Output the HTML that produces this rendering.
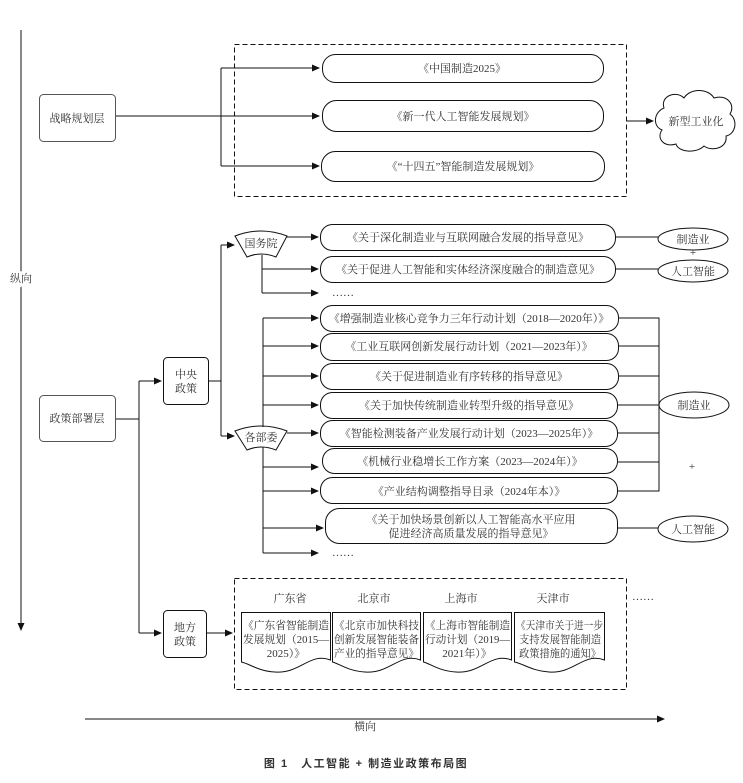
<!DOCTYPE html>
<html><head><meta charset="utf-8"><style>
html,body{margin:0;padding:0;background:#fff;}
svg{display:block;}
text{font-family:"Liberation Serif","Noto Serif CJK SC","Noto Sans CJK SC",serif;fill:#333;font-size:11px;}
</style></head><body>
<svg width="743" height="783" viewBox="0 0 743 783" xmlns="http://www.w3.org/2000/svg">
<defs>
<marker id="a" markerWidth="8" markerHeight="8" refX="7" refY="4" orient="auto" markerUnits="userSpaceOnUse"><path d="M0,0.5 L8,4 L0,7.5 z" fill="#111"/></marker>
</defs>
<g stroke="#111" stroke-width="1" fill="none">
<line x1="21" y1="30" x2="21" y2="630" marker-end="url(#a)"/>
<line x1="85" y1="719" x2="664" y2="719" marker-end="url(#a)"/>
<rect x="39.5" y="94.5" width="76" height="47" rx="4" stroke="#555"/>
<rect x="234.5" y="44.5" width="392" height="152" stroke-dasharray="5,3"/>
<line x1="116" y1="116" x2="319" y2="116" marker-end="url(#a)"/>
<path d="M221,68 V166" />
<line x1="221" y1="68" x2="319" y2="68" marker-end="url(#a)"/>
<line x1="221" y1="166" x2="319" y2="166" marker-end="url(#a)"/>
<rect x="322.5" y="54.5" width="281" height="28" rx="13"/>
<rect x="322.5" y="100.5" width="281" height="31" rx="14"/>
<rect x="321.5" y="151.5" width="283" height="30" rx="14"/>
<line x1="627" y1="121" x2="653" y2="121" marker-end="url(#a)"/>
<path d="M664,108 C660,96 676,90 684,98 C690,88 708,88 714,98 C726,94 736,104 730,114 C738,120 736,134 726,136 C728,148 712,152 704,146 C696,154 678,152 676,144 C664,148 656,138 662,130 C652,126 654,112 664,108 Z"/>
<rect x="39.5" y="395.5" width="76" height="46" rx="4" stroke="#555"/>
<path d="M116,419 H139 V633"/>
<line x1="139" y1="381" x2="161" y2="381" marker-end="url(#a)"/>
<line x1="139" y1="381" x2="139" y2="419"/>
<line x1="139" y1="633" x2="161" y2="633" marker-end="url(#a)"/>
<rect x="163.5" y="357.5" width="45" height="47" rx="4"/>
<rect x="163.5" y="610.5" width="43" height="47" rx="4"/>
<path d="M209,381 H221 V245"/>
<line x1="221" y1="381" x2="221" y2="436"/>
<line x1="221" y1="245" x2="234" y2="245" marker-end="url(#a)"/>
<line x1="221" y1="436" x2="234" y2="436" marker-end="url(#a)"/>
<path d="M235,236 Q261,226 287,236 L276,257 Q261,251 247,257 Z"/>
<path d="M235,431 Q261,421 287,431 L276,450 Q261,444 247,450 Z"/>
<line x1="287" y1="237" x2="318" y2="237" marker-end="url(#a)"/>
<path d="M262,255 V293"/>
<line x1="262" y1="269" x2="318" y2="269" marker-end="url(#a)"/>
<line x1="262" y1="293" x2="318" y2="293" marker-end="url(#a)"/>
<rect x="320.5" y="224.5" width="295" height="26" rx="12"/>
<rect x="320.5" y="256.5" width="295" height="26" rx="12"/>
<line x1="616" y1="237" x2="658" y2="237"/>
<line x1="616" y1="269" x2="658" y2="269"/>
<ellipse cx="693" cy="239" rx="35" ry="11"/>
<ellipse cx="693" cy="271" rx="35" ry="11"/>
<line x1="263" y1="318" x2="263" y2="427"/>
<line x1="263" y1="447" x2="263" y2="553"/>
<line x1="263" y1="318" x2="318" y2="318" marker-end="url(#a)"/>
<line x1="263" y1="346" x2="318" y2="346" marker-end="url(#a)"/>
<line x1="263" y1="376" x2="318" y2="376" marker-end="url(#a)"/>
<line x1="263" y1="405" x2="318" y2="405" marker-end="url(#a)"/>
<line x1="287" y1="433" x2="318" y2="433" marker-end="url(#a)"/>
<line x1="263" y1="467" x2="318" y2="467" marker-end="url(#a)"/>
<line x1="263" y1="491" x2="318" y2="491" marker-end="url(#a)"/>
<line x1="263" y1="528" x2="323" y2="528" marker-end="url(#a)"/>
<line x1="263" y1="553" x2="318" y2="553" marker-end="url(#a)"/>
<rect x="320.5" y="305.5" width="298" height="26" rx="12"/>
<rect x="320.5" y="333.5" width="298" height="27" rx="12"/>
<rect x="320.5" y="363.5" width="298" height="26" rx="12"/>
<rect x="320.5" y="392.5" width="297" height="26" rx="12"/>
<rect x="320.5" y="420.5" width="297" height="26" rx="12"/>
<rect x="322.5" y="448.5" width="295" height="25" rx="12"/>
<rect x="320.5" y="477.5" width="297" height="26" rx="12"/>
<rect x="325.5" y="508.5" width="292" height="35" rx="14"/>
<path d="M618,318 H659 V491 H618"/>
<line x1="618" y1="346" x2="659" y2="346"/>
<line x1="618" y1="376" x2="659" y2="376"/>
<line x1="618" y1="405" x2="659" y2="405"/>
<line x1="618" y1="433" x2="659" y2="433"/>
<line x1="618" y1="462" x2="659" y2="462"/>
<ellipse cx="694" cy="405" rx="35" ry="13"/>
<line x1="618" y1="528" x2="658" y2="528"/>
<ellipse cx="693" cy="529" rx="35" ry="13"/>
<rect x="234.5" y="578.5" width="392" height="111" stroke-dasharray="5,3"/>
<line x1="206" y1="633" x2="232" y2="633" marker-end="url(#a)"/>
<path d="M241.5,612.5 H330.5 V660 C310,652 300,674 275,672 C258,671 250,664 241.5,662 Z"/>
<path d="M332.5,612.5 H420.5 V660 C400,652 390,674 365,672 C348,671 340,664 332.5,662 Z"/>
<path d="M423.5,612.5 H511.5 V660 C491,652 481,674 456,672 C439,671 431,664 423.5,662 Z"/>
<path d="M514.5,612.5 H604.5 V660 C584,652 574,674 549,672 C532,671 524,664 514.5,662 Z"/>
</g>
<g text-anchor="middle">
<text x="21" y="282" font-size="11" style="paint-order:stroke" stroke="#fff" stroke-width="4">纵向</text>
<text x="365" y="730" font-size="10">横向</text>
<text x="366" y="767" font-size="14" font-weight="bold" fill="#222" letter-spacing="1.5" style="font-family:'Liberation Sans','Noto Sans CJK SC',sans-serif">图 1　人工智能 + 制造业政策布局图</text>
<text x="77" y="122">战略规划层</text>
<text x="77" y="422">政策部署层</text>
<text x="186" y="378">中央</text><text x="186" y="392">政策</text>
<text x="185" y="631">地方</text><text x="185" y="645">政策</text>
<text x="462" y="72">《中国制造2025》</text>
<text x="463" y="120">《新一代人工智能发展规划》</text>
<text x="463" y="170">《“十四五”智能制造发展规划》</text>
<text x="696" y="125" font-size="12">新型工业化</text>
<text x="261" y="247">国务院</text>
<text x="261" y="441">各部委</text>
<text x="468" y="241">《关于深化制造业与互联网融合发展的指导意见》</text>
<text x="468" y="273">《关于促进人工智能和实体经济深度融合的制造意见》</text>
<text x="693" y="243">制造业</text>
<text x="693" y="256" font-size="9">+</text>
<text x="693" y="275">人工智能</text>
<text x="469" y="322">《增强制造业核心竞争力三年行动计划（2018—2020年）》</text>
<text x="469" y="350">《工业互联网创新发展行动计划（2021—2023年）》</text>
<text x="469" y="380">《关于促进制造业有序转移的指导意见》</text>
<text x="469" y="409">《关于加快传统制造业转型升级的指导意见》</text>
<text x="469" y="437">《智能检测装备产业发展行动计划（2023—2025年）》</text>
<text x="470" y="465">《机械行业稳增长工作方案（2023—2024年）》</text>
<text x="469" y="495">《产业结构调整指导目录（2024年本）》</text>
<text x="471" y="523">《关于加快场景创新以人工智能高水平应用</text>
<text x="471" y="537">促进经济高质量发展的指导意见》</text>
<text x="694" y="409">制造业</text>
<text x="692" y="470" font-size="9">+</text>
<text x="693" y="533">人工智能</text>
<text x="290" y="602">广东省</text>
<text x="374" y="602">北京市</text>
<text x="461" y="602">上海市</text>
<text x="553" y="602">天津市</text>
<text x="643" y="600">……</text>
</g>
<g font-size="10.5">
<text x="243" y="629" textLength="86" lengthAdjust="spacingAndGlyphs">《广东省智能制造</text><text x="243" y="643" textLength="86" lengthAdjust="spacingAndGlyphs">发展规划（2015—</text><text x="286" y="657" text-anchor="middle">2025）》</text>
<text x="334" y="629" textLength="85" lengthAdjust="spacingAndGlyphs">《北京市加快科技</text><text x="334" y="643" textLength="85" lengthAdjust="spacingAndGlyphs">创新发展智能装备</text><text x="334" y="657" textLength="85" lengthAdjust="spacingAndGlyphs">产业的指导意见》</text>
<text x="425" y="629" textLength="85" lengthAdjust="spacingAndGlyphs">《上海市智能制造</text><text x="425" y="643" textLength="85" lengthAdjust="spacingAndGlyphs">行动计划（2019—</text><text x="467" y="657" text-anchor="middle">2021年）》</text>
<text x="516" y="629" textLength="87" lengthAdjust="spacingAndGlyphs">《天津市关于进一步</text><text x="519" y="643" textLength="82" lengthAdjust="spacingAndGlyphs">支持发展智能制造</text><text x="519" y="657" textLength="82" lengthAdjust="spacingAndGlyphs">政策措施的通知》</text>
</g>
<text x="332" y="296">……</text>
<text x="332" y="556">……</text>
</svg>
</body></html>
